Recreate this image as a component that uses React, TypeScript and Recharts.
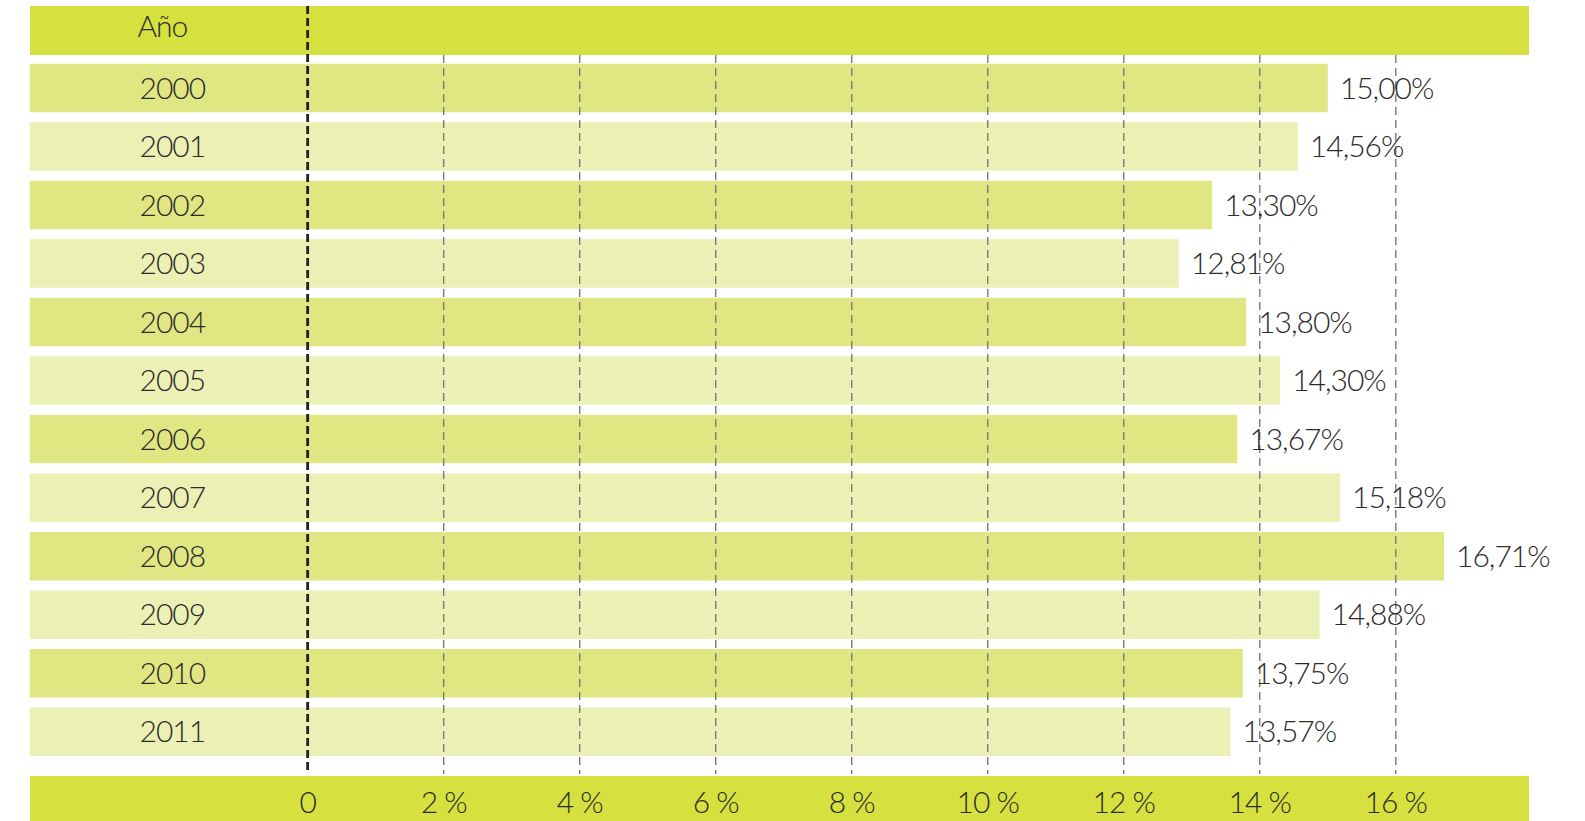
import React from 'react';
import { BarChart, Bar, XAxis, YAxis, Cell, LabelList, ReferenceLine } from 'recharts';

// values
const years = ['2000', '2001', '2002', '2003', '2004', '2005', '2006', '2007', '2008', '2009', '2010', '2011'];
const shares = [15.0, 14.56, 13.3, 12.81, 13.8, 14.3, 13.67, 15.18, 16.71, 14.88, 13.75, 13.57];
const xTicks = [0, 2, 4, 6, 8, 10, 12, 14, 16];

const data = years.map((year, i) => ({ year, value: shares[i] }));

// the bars start under the year labels, left of zero
const X_MIN = -4.09;
const X_MAX = 17.95;

const HEADER = '#d6e03e';
const DARK = '#e0e682';
const LIGHT = '#ebf0b4';
const TEXT = '#2b2b2b';
const FONT = 'Lato, "Open Sans", sans-serif';
const FONT_SIZE = 30;

const textProps = {
  fill: TEXT,
  fontSize: FONT_SIZE,
  fontFamily: FONT,
  fontWeight: 300,
  letterSpacing: -1,
  style: { letterSpacing: '-1px' },
};

const fmtValue = (v: number) => v.toFixed(2).replace('.', ',') + '%';
const fmtTick = (v: number) => (v === 0 ? '0' : `${v} %`);

// dashed lines reach past the rows; the zero line runs up through the header
const GridLine = (props: any) => {
  const isZero = props.zero;
  return (
    <line
      x1={props.x1}
      x2={props.x2}
      y1={isZero ? 6 : 55}
      y2={774}
      stroke={isZero ? '#222' : '#7a7a7a'}
      strokeWidth={isZero ? 2.8 : 1.4}
      strokeDasharray={isZero ? '8 4' : '8 5'}
    />
  );
};

const App: React.FC = () => {
  return (
    <div style={{ position: 'absolute', left: 0, top: 0, width: 1585, height: 821, fontFamily: FONT }}>
      <div
        style={{
          position: 'absolute',
          left: 29.5,
          top: 6,
          width: 1499,
          height: 48.6,
          background: HEADER,
        }}
      >
        <span
          style={{
            position: 'absolute',
            left: 108,
            top: 1,
            fontSize: FONT_SIZE,
            fontWeight: 300,
            lineHeight: 1.2,
            letterSpacing: '-1px',
            color: TEXT,
          }}
        >
          Año
        </span>
      </div>
      <div
        style={{
          position: 'absolute',
          left: 29.5,
          top: 776,
          width: 1499,
          height: 45,
          background: HEADER,
        }}
      />
      <div style={{ position: 'absolute', left: 0, top: 0 }}>
        <BarChart
          width={1585}
          height={821}
          data={data}
          layout="vertical"
          margin={{ top: 58.7, right: 56.6, left: 29.5, bottom: 0 }}
        >
          <XAxis
            type="number"
            domain={[X_MIN, X_MAX]}
            allowDataOverflow
            ticks={xTicks}
            tickFormatter={fmtTick}
            axisLine={false}
            tickLine={false}
            height={60}
            tickMargin={25}
            tick={textProps}
          />
          <YAxis type="category" dataKey="year" hide />
          <Bar dataKey={(d: any) => [X_MIN, d.value]} barSize={48.5} isAnimationActive={false}>
            {data.map((_, i) => (
              <Cell key={i} fill={i % 2 === 0 ? DARK : LIGHT} />
            ))}
            <LabelList dataKey="year" position="insideLeft" offset={110} {...textProps} />
            <LabelList
              dataKey="value"
              position="right"
              offset={12}
              formatter={(v: any) => fmtValue(Number(v))}
              {...textProps}
            />
          </Bar>
          {xTicks.map((t) => (
            <ReferenceLine key={t} x={t} shape={(p: any) => <GridLine {...p} zero={t === 0} />} />
          ))}
        </BarChart>
      </div>
    </div>
  );
};

export default App;
